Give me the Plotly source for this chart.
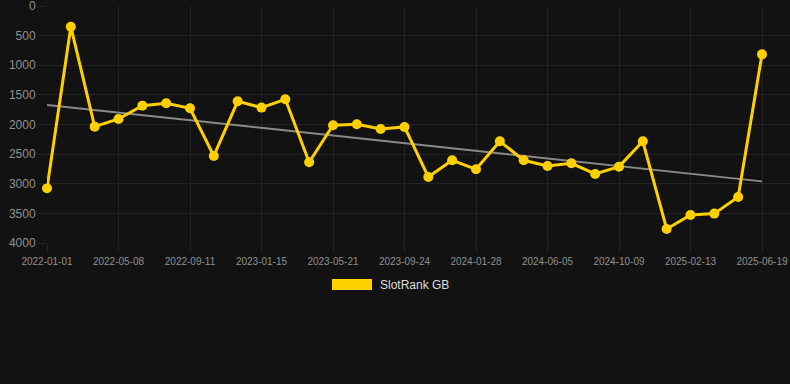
import numpy as np
import plotly.graph_objects as go

dates = ["2022-01-01", "2022-02-12", "2022-03-26", "2022-05-08", "2022-06-19", "2022-07-31",
         "2022-09-11", "2022-10-23", "2022-12-04", "2023-01-15", "2023-02-26", "2023-04-09",
         "2023-05-21", "2023-07-02", "2023-08-13", "2023-09-24", "2023-11-05", "2023-12-17",
         "2024-01-28", "2024-03-10", "2024-04-22", "2024-06-05", "2024-07-17", "2024-08-28",
         "2024-10-09", "2024-11-20", "2025-01-01", "2025-02-13", "2025-03-27", "2025-05-08",
         "2025-06-19"]
rank = [3077, 349, 2036, 1907, 1682, 1642, 1727, 2531, 1609, 1715, 1575, 2638,
        2013, 1997, 2075, 2041, 2885, 2604, 2756, 2283, 2604, 2700, 2655, 2835,
        2711, 2283, 3763, 3526, 3504, 3223, 816]
tick_labels = dates[::3]
y_ticks = [0, 500, 1000, 1500, 2000, 2500, 3000, 3500, 4000]
series_name = "SlotRank GB"

GOLD = "#ffd000"
BG = "#121212"
GRID = "#232323"
FONT = "Arial, Liberation Sans, sans-serif"

idx = np.arange(len(rank))
slope, intercept = np.polyfit(idx, rank, 1)
trend = slope * idx + intercept

fig = go.Figure()
fig.add_trace(go.Scatter(
    x=[dates[0], dates[-1]], y=[trend[0], trend[-1]], mode="lines",
    line=dict(color="#8a8a8a", width=2), showlegend=False, hoverinfo="skip"))
fig.add_trace(go.Scatter(
    x=dates, y=rank, mode="lines+markers", name=series_name,
    line=dict(color=GOLD, width=3), marker=dict(color=GOLD, size=10),
    cliponaxis=False, showlegend=False))

# manual legend
fig.add_shape(type="rect", xref="paper", yref="paper",
              x0=(332 - 47) / 743, x1=(372 - 47) / 743,
              y0=(243 - 290) / 237, y1=(243 - 279) / 237,
              fillcolor=GOLD, line=dict(width=0))
fig.add_annotation(xref="paper", yref="paper", x=(378 - 47) / 743, y=(243 - 285) / 237,
                   text=series_name, showarrow=False, xanchor="left", yanchor="middle",
                   font=dict(family=FONT, size=12, color="#dddddd"))

fig.update_layout(
    width=790, height=384,
    margin=dict(l=47, r=0, t=6, b=141),
    paper_bgcolor=BG, plot_bgcolor=BG,
    font=dict(family=FONT),
    showlegend=False,
)
fig.update_xaxes(
    type="category", categoryorder="array", categoryarray=dates,
    range=[0, 30 + 28 / 23.83],
    tickmode="array", tickvals=tick_labels, ticktext=tick_labels,
    tickangle=0, ticklabeloverflow="allow",
    showgrid=True, gridcolor=GRID, gridwidth=1,
    ticks="outside", ticklen=9, tickcolor=GRID,
    tickfont=dict(size=10, color="#909090", family=FONT),
    showline=False, zeroline=False,
)
fig.update_yaxes(
    range=[4000, 0],
    tickmode="array", tickvals=y_ticks, ticklabeloverflow="allow",
    showgrid=True, gridcolor=GRID, gridwidth=1,
    ticks="outside", ticklen=8, tickcolor=GRID,
    tickfont=dict(size=12, color="#909090", family=FONT),
    showline=False, zeroline=False,
)

fig.write_html(
    "out.html",
    config={"displayModeBar": False},
    post_script="document.body.style.margin='0';document.body.style.padding='0';"
                "document.body.style.background='#121212';document.body.style.overflow='hidden';",
)
